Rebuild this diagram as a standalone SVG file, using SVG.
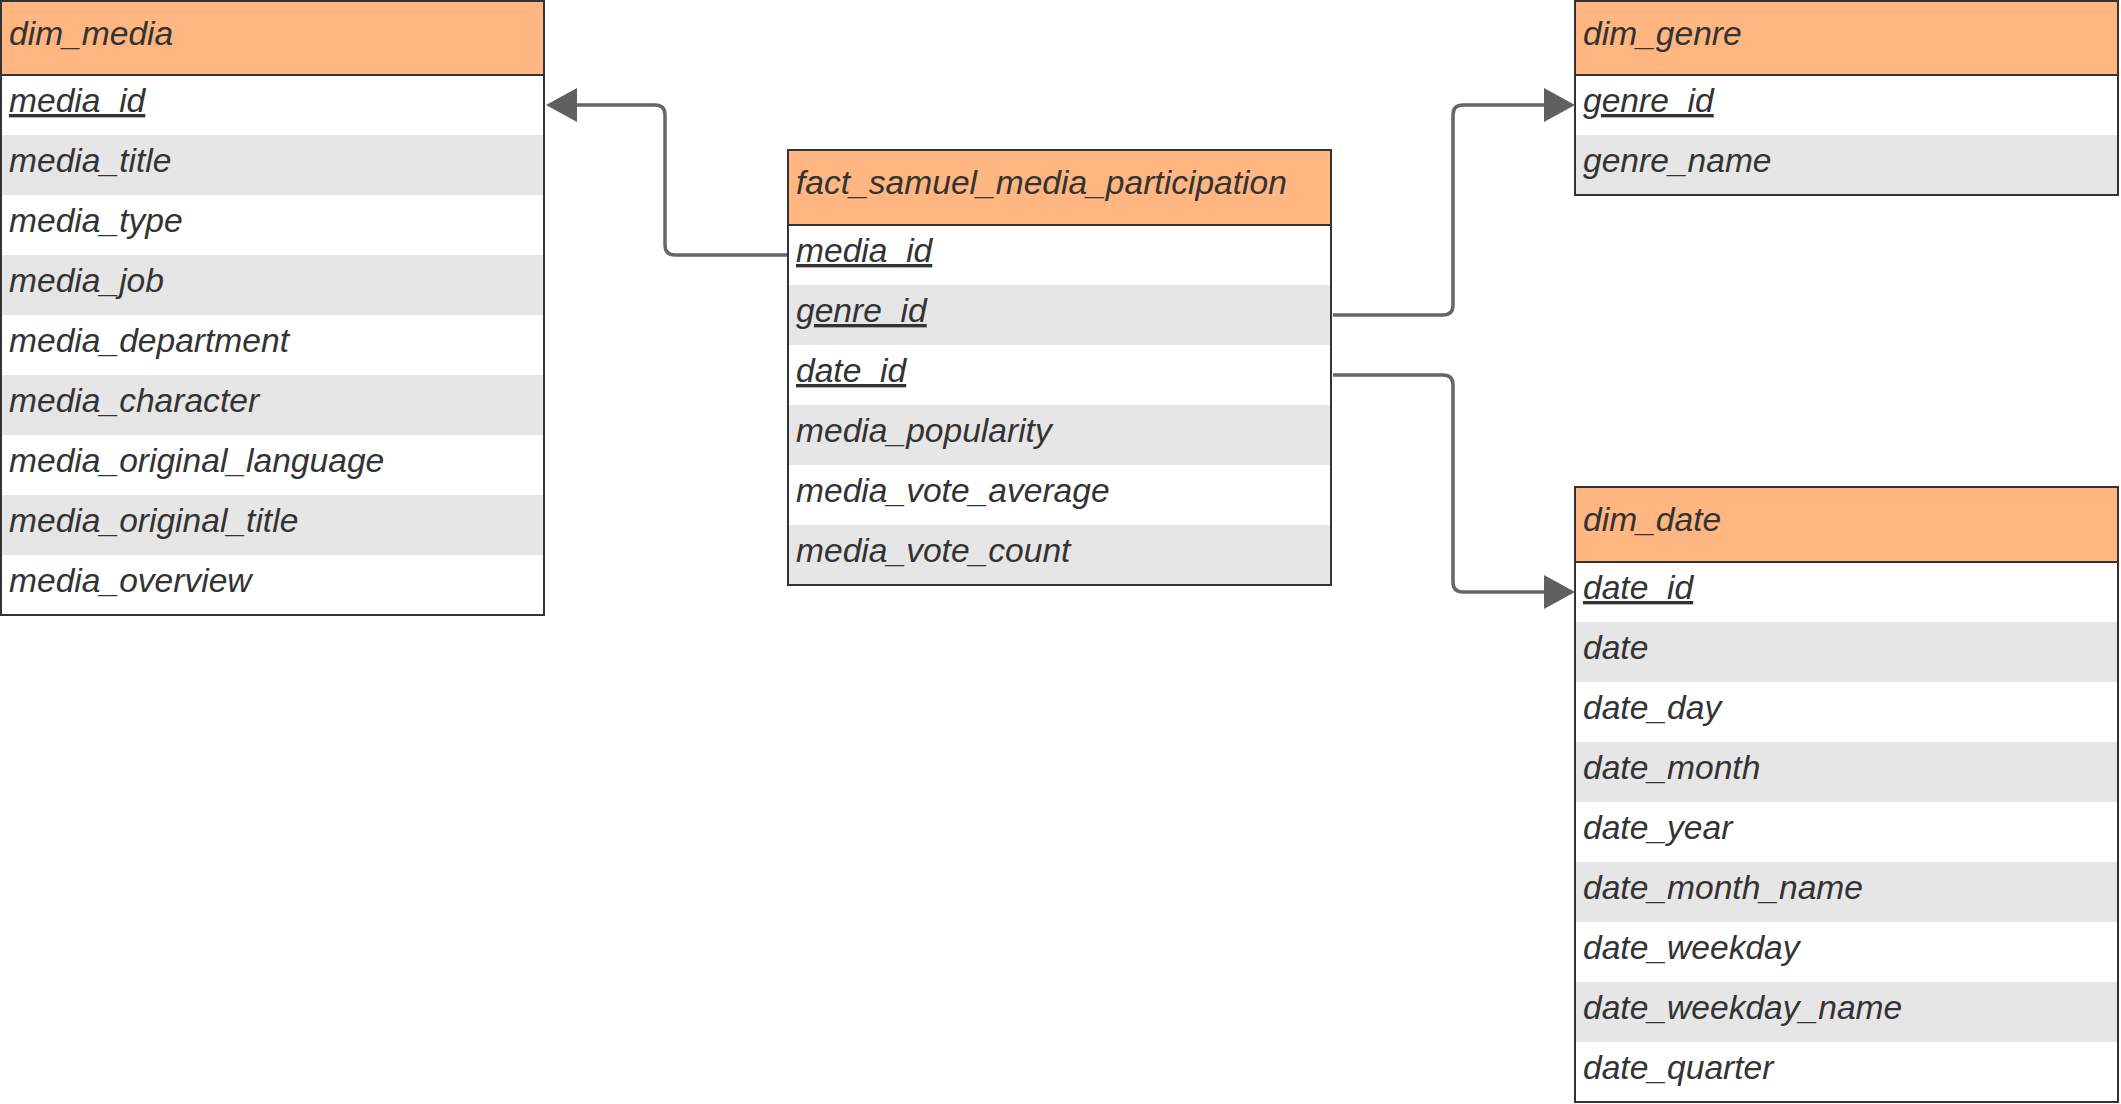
<svg xmlns="http://www.w3.org/2000/svg" width="2121" height="1104" viewBox="0 0 2121 1104">
<style>
.hdr{fill:#FFB680}
.alt{fill:#E6E6E6}
.box{fill:none;stroke:#333333;stroke-width:2}
.sep{stroke:#333333;stroke-width:2}
text{font-family:"Liberation Sans",Arial,sans-serif;font-size:33.6px;font-style:italic;fill:#333333}
.key{text-decoration:underline}
.conn{fill:none;stroke:#666666;stroke-width:3.5}
</style>
<defs>
<marker id="arr" markerUnits="userSpaceOnUse" markerWidth="32" markerHeight="34" refX="0" refY="17" orient="auto" overflow="visible">
<path d="M0,0 L31,17 L0,34 Z" fill="#606060"/>
</marker>
</defs>
<rect width="2121" height="1104" fill="#FFFFFF"/>

<g id="dim_media">
<rect class="hdr" x="1" y="1" width="543" height="74"/>
<rect class="alt" x="1" y="135" width="543" height="60"/>
<rect class="alt" x="1" y="255" width="543" height="60"/>
<rect class="alt" x="1" y="375" width="543" height="60"/>
<rect class="alt" x="1" y="495" width="543" height="60"/>
<line class="sep" x1="1" y1="75" x2="544" y2="75"/>
<rect class="box" x="1" y="1" width="543" height="614"/>
<text x="9" y="45">dim_media</text>
<text class="key" x="9" y="112">media_id</text>
<text x="9" y="172">media_title</text>
<text x="9" y="232">media_type</text>
<text x="9" y="292">media_job</text>
<text x="9" y="352">media_department</text>
<text x="9" y="412">media_character</text>
<text x="9" y="472">media_original_language</text>
<text x="9" y="532">media_original_title</text>
<text x="9" y="592">media_overview</text>
</g>

<g id="fact_samuel_media_participation">
<rect class="hdr" x="788" y="150" width="543" height="75"/>
<rect class="alt" x="788" y="285" width="543" height="60"/>
<rect class="alt" x="788" y="405" width="543" height="60"/>
<rect class="alt" x="788" y="525" width="543" height="60"/>
<line class="sep" x1="788" y1="225" x2="1331" y2="225"/>
<rect class="box" x="788" y="150" width="543" height="435"/>
<text x="796" y="194">fact_samuel_media_participation</text>
<text class="key" x="796" y="262">media_id</text>
<text class="key" x="796" y="322">genre_id</text>
<text class="key" x="796" y="382">date_id</text>
<text x="796" y="442">media_popularity</text>
<text x="796" y="502">media_vote_average</text>
<text x="796" y="562">media_vote_count</text>
</g>

<g id="dim_genre">
<rect class="hdr" x="1575" y="1" width="543" height="74"/>
<rect class="alt" x="1575" y="135" width="543" height="60"/>
<line class="sep" x1="1575" y1="75" x2="2118" y2="75"/>
<rect class="box" x="1575" y="1" width="543" height="194"/>
<text x="1583" y="45">dim_genre</text>
<text class="key" x="1583" y="112">genre_id</text>
<text x="1583" y="172">genre_name</text>
</g>

<g id="dim_date">
<rect class="hdr" x="1575" y="487" width="543" height="75"/>
<rect class="alt" x="1575" y="622" width="543" height="60"/>
<rect class="alt" x="1575" y="742" width="543" height="60"/>
<rect class="alt" x="1575" y="862" width="543" height="60"/>
<rect class="alt" x="1575" y="982" width="543" height="60"/>
<line class="sep" x1="1575" y1="562" x2="2118" y2="562"/>
<rect class="box" x="1575" y="487" width="543" height="615"/>
<text x="1583" y="531">dim_date</text>
<text class="key" x="1583" y="599">date_id</text>
<text x="1583" y="659">date</text>
<text x="1583" y="719">date_day</text>
<text x="1583" y="779">date_month</text>
<text x="1583" y="839">date_year</text>
<text x="1583" y="899">date_month_name</text>
<text x="1583" y="959">date_weekday</text>
<text x="1583" y="1019">date_weekday_name</text>
<text x="1583" y="1079">date_quarter</text>
</g>

<g id="connectors">
<path class="conn" marker-end="url(#arr)" d="M787,255 L675,255 Q665,255 665,245 L665,115 Q665,105 655,105 L577,105"/>
<path class="conn" marker-end="url(#arr)" d="M1333,315 L1443,315 Q1453,315 1453,305 L1453,115 Q1453,105 1463,105 L1544,105"/>
<path class="conn" marker-end="url(#arr)" d="M1333,375 L1443,375 Q1453,375 1453,385 L1453,582 Q1453,592 1463,592 L1544,592"/>
</g>
</svg>
